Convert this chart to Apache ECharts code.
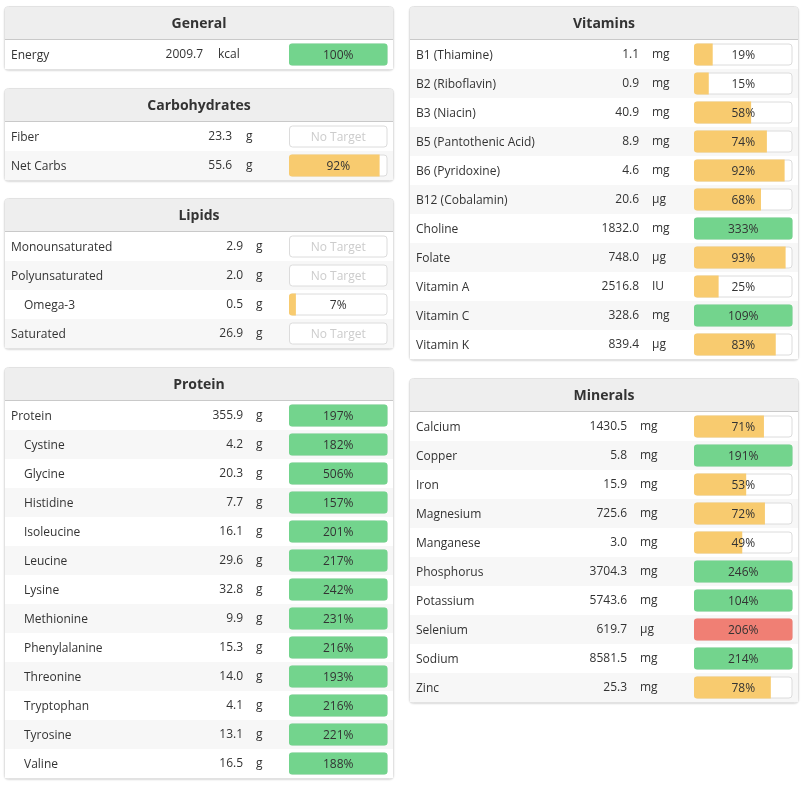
<!DOCTYPE html>
<html>
<head>
<meta charset="utf-8">
<script src="https://cdn.jsdelivr.net/npm/echarts@6/dist/echarts.min.js"></script>
<style>
  html, body { margin: 0; padding: 0; background: #fff; }
  #chart { width: 806px; height: 789px; }
</style>
</head>
<body>
<div id="chart"></div>
<script>
// nutrient rows per section: name, amount, unit, % of target (null = no target)
const generalNames = ['Energy'];
const generalAmounts = [2009.7];
const generalUnits = ['kcal'];
const generalPct = [100];

const carbNames = ['Fiber', 'Net Carbs'];
const carbAmounts = [23.3, 55.6];
const carbUnits = ['g', 'g'];
const carbPct = [null, 92];

const lipidNames = ['Monounsaturated', 'Polyunsaturated', 'Omega-3', 'Saturated'];
const lipidAmounts = [2.9, 2.0, 0.5, 26.9];
const lipidUnits = ['g', 'g', 'g', 'g'];
const lipidPct = [null, null, 7, null];

const proteinNames = ['Protein', 'Cystine', 'Glycine', 'Histidine', 'Isoleucine', 'Leucine', 'Lysine',
  'Methionine', 'Phenylalanine', 'Threonine', 'Tryptophan', 'Tyrosine', 'Valine'];
const proteinAmounts = [355.9, 4.2, 20.3, 7.7, 16.1, 29.6, 32.8, 9.9, 15.3, 14.0, 4.1, 13.1, 16.5];
const proteinUnits = ['g', 'g', 'g', 'g', 'g', 'g', 'g', 'g', 'g', 'g', 'g', 'g', 'g'];
const proteinPct = [197, 182, 506, 157, 201, 217, 242, 231, 216, 193, 216, 221, 188];

const vitaminNames = ['B1 (Thiamine)', 'B2 (Riboflavin)', 'B3 (Niacin)', 'B5 (Pantothenic Acid)',
  'B6 (Pyridoxine)', 'B12 (Cobalamin)', 'Choline', 'Folate', 'Vitamin A', 'Vitamin C', 'Vitamin K'];
const vitaminAmounts = [1.1, 0.9, 40.9, 8.9, 4.6, 20.6, 1832.0, 748.0, 2516.8, 328.6, 839.4];
const vitaminUnits = ['mg', 'mg', 'mg', 'mg', 'mg', 'µg', 'mg', 'µg', 'IU', 'mg', 'µg'];
const vitaminPct = [19, 15, 58, 74, 92, 68, 333, 93, 25, 109, 83];

const mineralNames = ['Calcium', 'Copper', 'Iron', 'Magnesium', 'Manganese', 'Phosphorus',
  'Potassium', 'Selenium', 'Sodium', 'Zinc'];
const mineralAmounts = [1430.5, 5.8, 15.9, 725.6, 3.0, 3704.3, 5743.6, 619.7, 8581.5, 25.3];
const mineralUnits = ['mg', 'mg', 'mg', 'mg', 'mg', 'mg', 'mg', 'µg', 'mg', 'mg'];
const mineralPct = [71, 191, 53, 72, 49, 246, 104, 206, 214, 78];

// rows shown indented under their parent, and rows above the upper limit
const subItems = ['Omega-3', 'Cystine', 'Glycine', 'Histidine', 'Isoleucine', 'Leucine', 'Lysine',
  'Methionine', 'Phenylalanine', 'Threonine', 'Tryptophan', 'Tyrosine', 'Valine'];
const overLimit = ['Selenium'];

const FONT = "'Open Sans', sans-serif";
const FS = 12;
const ROW_H = 29;
const HEAD_H = 34;
const BAR_L = 285, BAR_R = 383.5;   // bar track, relative to panel left
const GREEN = '#73d48d', YELLOW = '#f8cb6f', RED = '#f07f74';

const panels = [
  { title: 'General', x: 4, y: 6, w: 390, names: generalNames, amounts: generalAmounts,
    units: generalUnits, pct: generalPct, valRight: 199, unitLeft: 214 },
  { title: 'Carbohydrates', x: 4, y: 88, w: 390, names: carbNames, amounts: carbAmounts,
    units: carbUnits, pct: carbPct, valRight: 228, unitLeft: 242 },
  { title: 'Lipids', x: 4, y: 198, w: 390, names: lipidNames, amounts: lipidAmounts,
    units: lipidUnits, pct: lipidPct, valRight: 239, unitLeft: 252 },
  { title: 'Protein', x: 4, y: 367, w: 390, names: proteinNames, amounts: proteinAmounts,
    units: proteinUnits, pct: proteinPct, valRight: 239, unitLeft: 252 },
  { title: 'Vitamins', x: 409, y: 6, w: 390, names: vitaminNames, amounts: vitaminAmounts,
    units: vitaminUnits, pct: vitaminPct, valRight: 230, unitLeft: 243 },
  { title: 'Minerals', x: 409, y: 378, w: 390, names: mineralNames, amounts: mineralAmounts,
    units: mineralUnits, pct: mineralPct, valRight: 218, unitLeft: 231 }
];

const grids = [], xAxes = [], yAxes = [], series = [], graphics = [];

panels.forEach((p, i) => {
  const rows = p.names.length;
  const gl = p.x + 1, gw = p.w - 2;
  const bodyH = rows * ROW_H;

  // panel chrome
  graphics.push({
    type: 'rect', z: -10,
    shape: { x: p.x + 0.5, y: p.y + 0.5, width: p.w - 1, height: HEAD_H + bodyH, r: 4 },
    style: { fill: '#fff', stroke: '#e2e2e2', lineWidth: 1,
      shadowBlur: 2, shadowOffsetY: 1, shadowColor: 'rgba(0,0,0,0.12)' }
  });
  graphics.push({
    type: 'rect', z: -9,
    shape: { x: p.x + 1, y: p.y + 1, width: p.w - 2, height: HEAD_H - 2, r: [3, 3, 0, 0] },
    style: { fill: '#eeeeee' }
  });
  graphics.push({
    type: 'line', z: -8,
    shape: { x1: p.x + 1, y1: p.y + HEAD_H - 0.5, x2: p.x + p.w - 1, y2: p.y + HEAD_H - 0.5 },
    style: { stroke: '#c9c9c9', lineWidth: 1 }
  });
  graphics.push({
    type: 'text', z: -7, x: p.x + p.w / 2, y: p.y + HEAD_H / 2 + 1.5,
    style: { text: p.title, font: 'bold 14px ' + FONT, fill: '#333',
      align: 'center', verticalAlign: 'middle' }
  });

  grids.push({ left: gl, top: p.y + HEAD_H, width: gw, height: bodyH });

  // x scale so that 0..100 % spans the bar track
  const bw = BAR_R - BAR_L;
  xAxes.push({
    gridIndex: i, type: 'value', show: false,
    min: -100 * (BAR_L - 1) / bw,
    max: 100 + 100 * (p.w - 1 - BAR_R) / bw
  });

  const baseY = {
    gridIndex: i, type: 'category', inverse: true, position: 'left', data: p.names,
    axisLine: { show: false }, axisTick: { show: false }, splitLine: { show: false }
  };
  const ay = yAxes.length;
  yAxes.push(Object.assign({}, baseY, {
    splitArea: { show: true, areaStyle: { color: ['#ffffff', '#f7f7f7'] } },
    axisLabel: {
      inside: true, interval: 0, margin: 6, align: 'left', fontFamily: FONT, fontSize: FS,
      color: '#333', padding: [2, 0, 0, 0],
      formatter: (v) => subItems.includes(v) ? '{s|' + v + '}' : v,
      rich: { s: { padding: [0, 0, 0, 13], fontFamily: FONT, fontSize: FS, color: '#333' } }
    }
  }));
  yAxes.push(Object.assign({}, baseY, {
    axisLabel: {
      inside: true, interval: 0, margin: p.valRight - 1, align: 'right', fontFamily: FONT,
      fontSize: FS, color: '#333', padding: [2, 0, 0, 0],
      formatter: (v, idx) => p.amounts[idx].toFixed(1)
    }
  }));
  yAxes.push(Object.assign({}, baseY, {
    axisLabel: {
      inside: true, interval: 0, margin: p.unitLeft - 1, align: 'left', fontFamily: FONT,
      fontSize: FS, color: '#333', padding: [2, 0, 0, 0],
      formatter: (v, idx) => p.units[idx]
    }
  }));

  const common = { type: 'bar', xAxisIndex: i, yAxisIndex: ay, barWidth: 22, barGap: '-100%', silent: true };

  // empty track
  series.push(Object.assign({}, common, {
    data: p.names.map(() => 100),
    itemStyle: { color: '#fff', borderColor: '#dcdcdc', borderWidth: 1, borderRadius: 3 }
  }));
  // filled part, capped at the target
  series.push(Object.assign({}, common, {
    data: p.pct.map((v, k) => {
      if (v == null) return '-';
      const full = v >= 100;
      const col = overLimit.includes(p.names[k]) ? RED : (full ? GREEN : YELLOW);
      return {
        value: Math.min(v, 100),
        itemStyle: { color: col, borderRadius: full ? 3 : [3, 0, 0, 3] }
      };
    })
  }));
  // percentage text centred on the track
  series.push(Object.assign({}, common, {
    data: p.pct.map((v) => ({
      value: 100,
      label: { color: v == null ? '#cccccc' : '#333' }
    })),
    itemStyle: { color: 'rgba(0,0,0,0)' },
    label: {
      show: true, position: 'inside', offset: [0, 1], fontFamily: FONT, fontSize: FS,
      formatter: (q) => p.pct[q.dataIndex] == null ? 'No Target' : p.pct[q.dataIndex] + '%'
    }
  }));
});

const chart = echarts.init(document.getElementById('chart'));
chart.setOption({
  animation: false,
  textStyle: { fontFamily: FONT },
  graphic: { elements: graphics },
  grid: grids,
  xAxis: xAxes,
  yAxis: yAxes,
  series: series
});
</script>
</body>
</html>
